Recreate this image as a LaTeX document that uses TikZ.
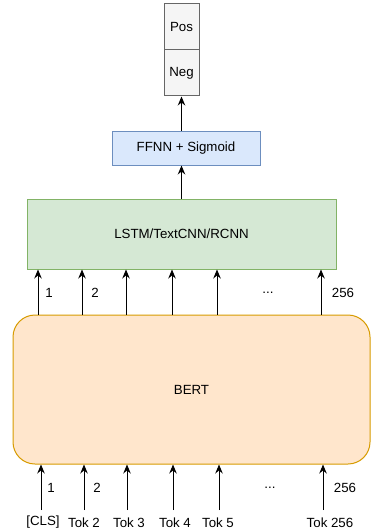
\documentclass[tikz,border=0pt]{standalone}
\usepackage{fontspec}
\setmainfont{Liberation Sans}
\usetikzlibrary{arrows.meta}
\definecolor{grayfill}{HTML}{F5F5F5}
\definecolor{graydraw}{HTML}{666666}
\definecolor{bluefill}{HTML}{DAE8FC}
\definecolor{bluedraw}{HTML}{6C8EBF}
\definecolor{greenfill}{HTML}{D5E8D4}
\definecolor{greendraw}{HTML}{82B366}
\definecolor{orangefill}{HTML}{FFE6CC}
\definecolor{orangedraw}{HTML}{D79B00}
\tikzset{
    every node/.style={inner sep=0pt, font=\fontsize{13.3}{16}\selectfont},
    box/.style={rectangle, draw, line width=1pt},
    outbox/.style={box, fill=grayfill, draw=graydraw, minimum width=35pt, minimum height=46pt},
    arr/.style={line width=1pt, -{Stealth[length=9pt,width=7.5pt,inset=3pt]}}
}

\begin{document}
\begin{tikzpicture}[x=1pt, y=-1pt]
        \useasboundingbox (0,0) rectangle (371,532);
        \node (pos) [outbox] at (181.5,27) {Pos};
        \node (neg) [outbox] at (181.5,73) {Neg};
        \node (ffnn) [box, fill=bluefill, draw=bluedraw, minimum width=148pt, minimum height=34pt] at (186,148) {FFNN + Sigmoid};
        \node (lstm) [box, fill=greenfill, draw=greendraw, minimum width=309pt, minimum height=70pt] at (181.5,234) {LSTM/TextCNN/RCNN};
        \node (bert) [box, fill=orangefill, draw=orangedraw, rounded corners=22pt, minimum width=357pt, minimum height=149pt] at (191.5,389.5) {BERT};
        \draw[arr] (lstm.north) -- (lstm.north |- ffnn.south);
        \draw[arr] (neg.south |- ffnn.north) -- (neg.south);
        \foreach \i/\x in {1/38, 2/82, 3/126, 4/172, 5/217, 6/321}
        {
                \coordinate (u\i) at (\x,0);
                \draw[arr] (bert.north -| u\i) -- (lstm.south -| u\i);
        }
        \node (h1) at (49,293) {1};
        \node (h2) at (95,293) {2};
        \node (hdots) at (268,293) {...};
        \node (h6) at (343,293) {256};
        \foreach \i/\x/\t in {1/41/{[CLS]}, 2/84/{Tok 2}, 3/127/{Tok 3}, 4/173/{Tok 4}, 5/219/{Tok 5}, 6/323/{Tok 256}}
        {
                \coordinate (b\i) at (\x,510);
                \draw[arr] (b\i) -- (bert.south -| b\i);
        }
        \node (t1) at (43,522) {[CLS]};
        \node (t2) at (84,523) {Tok 2};
        \node (t3) at (129,523) {Tok 3};
        \node (t4) at (175,523) {Tok 4};
        \node (t5) at (218,523) {Tok 5};
        \node (t6) at (330,523) {Tok 256};
        \node (e1) at (51,488) {1};
        \node (e2) at (97,488) {2};
        \node (edots) at (270,488) {...};
        \node (e6) at (345,488) {256};
\end{tikzpicture}
\end{document}
